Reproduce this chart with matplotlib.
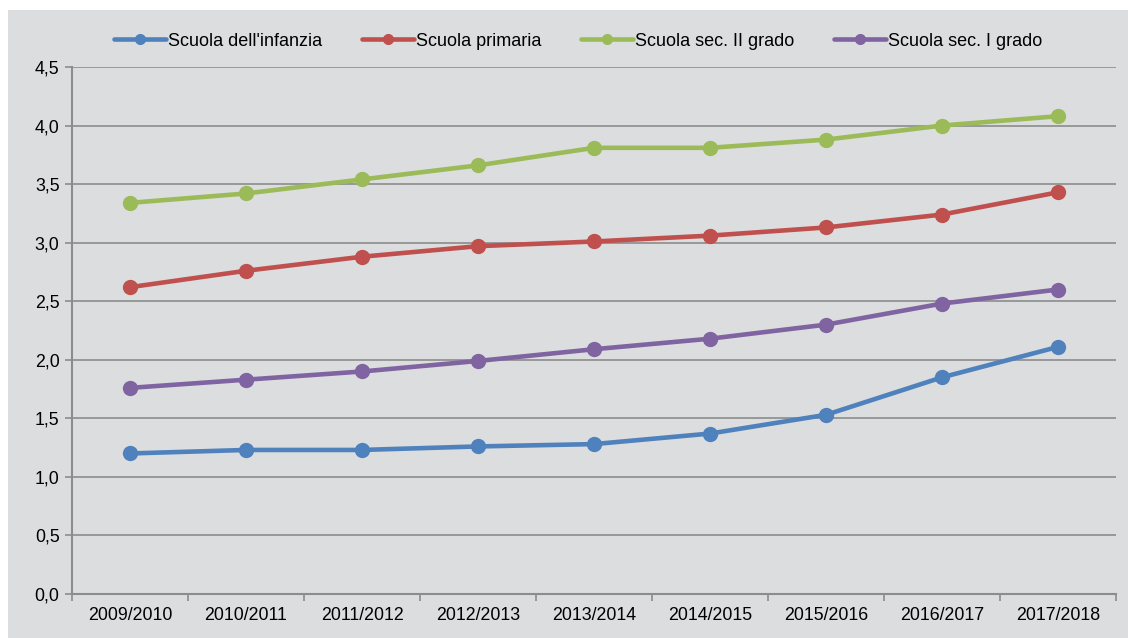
import matplotlib
matplotlib.use("Agg")
import matplotlib.pyplot as plt
from matplotlib.patches import Rectangle
from matplotlib.ticker import FuncFormatter

plt.rcParams["font.family"] = ["Liberation Sans", "DejaVu Sans"]

years = ["2009/2010", "2010/2011", "2011/2012", "2012/2013", "2013/2014",
         "2014/2015", "2015/2016", "2016/2017", "2017/2018"]

infanzia = [1.20, 1.23, 1.23, 1.26, 1.28, 1.37, 1.53, 1.85, 2.11]
primaria = [2.62, 2.76, 2.88, 2.97, 3.01, 3.06, 3.13, 3.24, 3.43]
sec_ii = [3.34, 3.42, 3.54, 3.66, 3.81, 3.81, 3.88, 4.00, 4.08]
sec_i = [1.76, 1.83, 1.90, 1.99, 2.09, 2.18, 2.30, 2.48, 2.60]

series = [
    ("Scuola dell'infanzia", infanzia, "#4F81BD"),
    ("Scuola primaria", primaria, "#C0504D"),
    ("Scuola sec. II grado", sec_ii, "#9BBB59"),
    ("Scuola sec. I grado", sec_i, "#8064A2"),
]

bg = "#DCDDDE"
grid = "#8C8C8C"

fig = plt.figure(figsize=(11.28, 6.38), dpi=100, facecolor="white")
fig.patches.append(Rectangle((8 / 1128, 0), 1 - 8 / 1128, 1 - 10 / 638,
                             transform=fig.transFigure, facecolor=bg,
                             edgecolor="none", zorder=-10))

ax = fig.add_axes([72 / 1128, 1 - 594 / 638, (1116 - 72) / 1128, (594 - 67) / 638])
ax.set_facecolor(bg)

x = list(range(len(years)))
for label, vals, color in series:
    ax.plot(x, vals, color=color, linewidth=3.3, marker="o", markersize=10,
            label=label, solid_capstyle="round", zorder=3)

ax.set_xlim(-0.5, len(years) - 0.5)
ax.set_ylim(0, 4.5)
ax.set_yticks([i * 0.5 for i in range(10)])
ax.yaxis.set_major_formatter(FuncFormatter(lambda v, p: f"{v:.1f}".replace(".", ",")))
ax.set_xticks(x)
ax.set_xticklabels(years)
ax.set_xticks([i - 0.5 for i in range(len(years) + 1)], minor=True)
ax.tick_params(axis="x", which="major", length=0, pad=9, labelsize=12.8)
ax.tick_params(axis="x", which="minor", length=5, color=grid, width=1.2)
ax.tick_params(axis="y", length=5, color=grid, width=1.2, labelsize=12.8, pad=4)

ax.grid(axis="y", color=grid, linewidth=1.2, zorder=1)
ax.set_axisbelow(True)
for side in ["top", "right"]:
    ax.spines[side].set_visible(False)
for side in ["left", "bottom"]:
    ax.spines[side].set_color(grid)
    ax.spines[side].set_linewidth(1.5)

fig.legend(loc="center", bbox_to_anchor=(578 / 1128, 1 - 41 / 638), ncol=4,
           frameon=False, fontsize=13, handlelength=2.9, handletextpad=0.1,
           columnspacing=2.2, markerscale=0.7)

fig.savefig("out.png", dpi=100, facecolor="white")
